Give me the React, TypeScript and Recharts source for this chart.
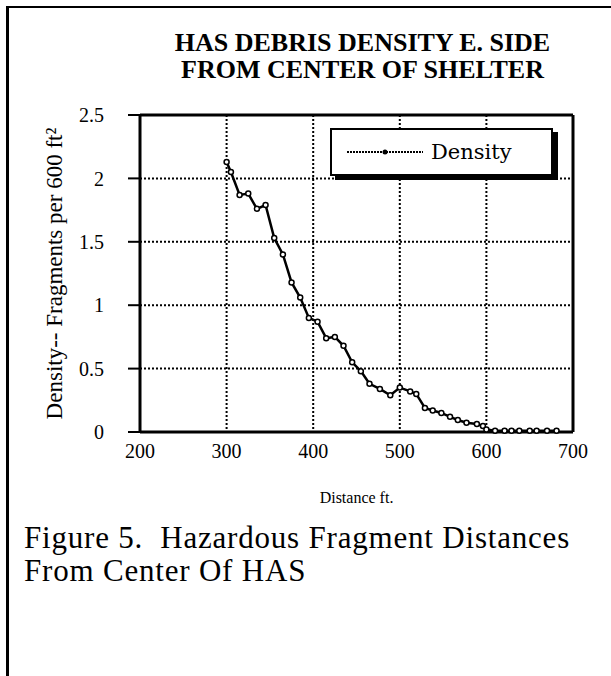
import React from 'react';
import { LineChart, Line, XAxis, YAxis, CartesianGrid } from 'recharts';

// distance from center of shelter (ft)
const distances = [
  300, 305, 315, 325, 335, 345, 355, 365, 375, 385, 395, 405, 415, 425, 435, 445, 455, 465,
  477, 489, 500, 512, 519, 529, 538, 548, 558, 567, 577, 589, 596, 600, 610, 621, 629, 638,
  650, 658, 670, 681,
];
// fragments per 600 ft^2
const densities = [
  2.13, 2.05, 1.87, 1.88, 1.76, 1.79, 1.53, 1.4, 1.18, 1.06, 0.9, 0.87, 0.74, 0.75, 0.68, 0.55,
  0.48, 0.38, 0.34, 0.29, 0.35, 0.32, 0.3, 0.19, 0.17, 0.15, 0.12, 0.095, 0.073, 0.063, 0.047,
  0.02, 0.01, 0.01, 0.01, 0.01, 0.01, 0.01, 0.01, 0.01,
];
const xTicks = [200, 300, 400, 500, 600, 700];
const yTicks = [0, 0.5, 1, 1.5, 2, 2.5];

const data = distances.map((d, i) => ({ distance: d, density: densities[i] }));

const serif = '"Liberation Serif", "DejaVu Serif", serif';

function RightTick(props: any) {
  const { x, y } = props;
  return <line x1={x - 7} y1={y} x2={x + 7} y2={y} stroke="#000" strokeWidth={2} />;
}

export default function App() {
  return (
    <div style={{ position: 'absolute', left: 0, top: 0, width: 611, height: 676, background: '#fff', fontFamily: serif, color: '#000' }}>
      {/* page frame */}
      <div style={{ position: 'absolute', left: 6, top: 6, width: 605, height: 670, borderLeft: '3px solid #000', borderTop: '2px solid #000' }} />

      <div style={{ position: 'absolute', left: 146, width: 433, top: 29, textAlign: 'center', fontWeight: 'bold', fontSize: 26, lineHeight: '27px' }}>
        HAS DEBRIS DENSITY E. SIDE
        <br />
        FROM CENTER OF SHELTER
      </div>

      <div style={{ position: 'absolute', left: 0, top: 0 }}>
        <LineChart width={611} height={676} data={data} margin={{ top: 114, right: 28, bottom: 204, left: 80 }}>
          <CartesianGrid stroke="#000" strokeWidth={2} strokeDasharray="2 2" />
          <XAxis
            dataKey="distance"
            type="number"
            domain={[200, 700]}
            ticks={xTicks}
            axisLine={{ stroke: '#000', strokeWidth: 3 }}
            tickLine={false}
            tickSize={0}
            tickMargin={12}
            height={40}
            tick={{ fill: '#000', fontSize: 20, fontFamily: serif }}
          />
          <XAxis xAxisId="top" orientation="top" dataKey="distance" type="number" domain={[200, 700]} ticks={xTicks} tick={false} tickLine={false} height={1} axisLine={{ stroke: '#000', strokeWidth: 3 }} />
          <YAxis
            type="number"
            domain={[0, 2.5]}
            ticks={yTicks}
            width={60}
            axisLine={{ stroke: '#000', strokeWidth: 3 }}
            tickLine={{ stroke: '#000', strokeWidth: 2 }}
            tickSize={12}
            tickMargin={24}
            tick={{ fill: '#000', fontSize: 20, fontFamily: serif }}
            label={{
              value: 'Density-- Fragments per 600 ft²',
              angle: -90,
              position: 'insideLeft',
              offset: -26,
              style: { textAnchor: 'middle', fill: '#000', fontSize: 23, fontFamily: serif },
            }}
          />
          <YAxis
            yAxisId="right"
            orientation="right"
            type="number"
            domain={[0, 2.5]}
            ticks={yTicks}
            width={10}
            axisLine={{ stroke: '#000', strokeWidth: 3 }}
            tickLine={false}
            tickSize={0}
            tickMargin={0}
            tick={<RightTick />}
          />
          <Line
            type="linear"
            dataKey="density"
            name="Density"
            stroke="#000"
            strokeWidth={2.5}
            dot={{ r: 2.5, fill: '#fff', stroke: '#000', strokeWidth: 1.5 }}
            isAnimationActive={false}
          />
        </LineChart>
      </div>

      {/* legend */}
      <div
        style={{
          position: 'absolute',
          left: 330,
          top: 128,
          width: 219,
          height: 44,
          border: '2px solid #000',
          boxShadow: '5px 4px 0 #000',
          background: '#fff',
          display: 'flex',
          alignItems: 'center',
          fontSize: 21,
          fontFamily: '"DejaVu Serif", serif',
        }}
      >
        <svg width={84} height={10} style={{ marginLeft: 15 }}>
          <line x1={0} y1={5} x2={76} y2={5} stroke="#000" strokeWidth={2} strokeDasharray="2 1" />
          <circle cx={38} cy={5} r={2.5} fill="#000" />
        </svg>
        <span>Density</span>
      </div>

      <div style={{ position: 'absolute', left: 140, width: 433, top: 489, textAlign: 'center', fontSize: 16 }}>
        Distance ft.
      </div>

      <div style={{ position: 'absolute', left: 24, top: 521, fontSize: 31, lineHeight: '33px', letterSpacing: 0.8, whiteSpace: 'pre' }}>
        {'Figure 5.  Hazardous Fragment Distances\nFrom Center Of HAS'}
      </div>
    </div>
  );
}
